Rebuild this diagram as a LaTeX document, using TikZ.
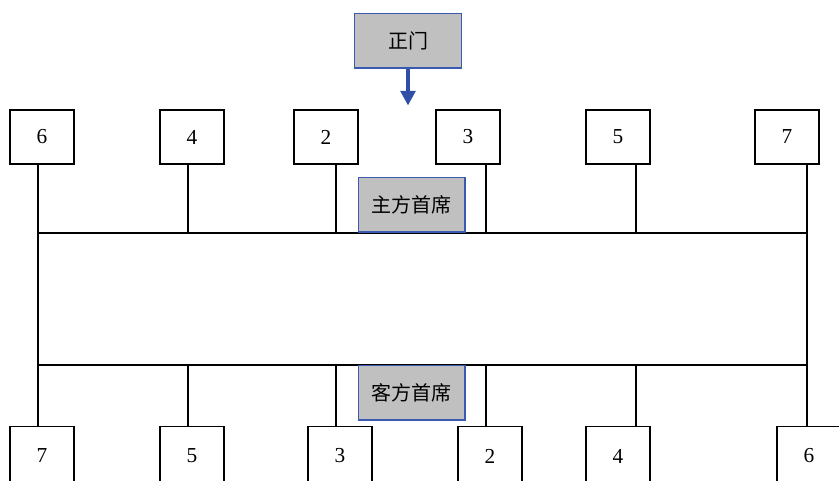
\documentclass[tikz,border=0pt]{standalone}
\usepackage{fontspec}
\setmainfont{Liberation Serif}
\newfontfamily\cjkfont{Noto Sans CJK SC}
\usetikzlibrary{arrows.meta}
\definecolor{seatgray}{HTML}{C0C0C0}
\definecolor{headblue}{HTML}{3A5AB0}
\definecolor{doorblue}{HTML}{2F50A6}
\tikzset{
  seatbox/.style={
    draw=black,
    line width=0.9pt,
    fill=white,
    minimum width=48pt,
    minimum height=40.5pt,
    inner sep=0pt,
    font=\fontsize{16}{18}\selectfont
  },
  headbox/.style={
    draw=headblue,
    line width=1pt,
    fill=seatgray,
    minimum width=80pt,
    minimum height=41pt,
    inner sep=0pt,
    font=\cjkfont\fontsize{15}{18}\selectfont
  },
  leg/.style={
    draw=black,
    line width=0.9pt
  },
  arrow/.style={
    -{Triangle[length=11pt,width=11pt]},
    line width=3pt,
    draw=doorblue
  }
}

\begin{document}
\begin{tikzpicture}[x=0.75pt,y=-0.75pt]
\useasboundingbox (0,0) rectangle (839,480);
% the long table
\node[leg, minimum width=576.75pt, minimum height=99pt, inner sep=0pt] (table) at (422.5,299) {};
% entrance
\node[headbox] (door) at (408,40.5) {正门};
\path (door.south) ++(0,37) coordinate (entry);
\draw[arrow] (door.south) -- (entry);
% upper row of seats
\node[seatbox] (t6) at (42,137) {6};
\node[seatbox] (t4) at (192,137) {4};
\node[seatbox] (t2) at (326,137) {2};
\node[seatbox] (t3) at (468,137) {3};
\node[seatbox] (t5) at (618,137) {5};
\node[seatbox] (t7) at (787,137) {7};
% lower row of seats (runs off the bottom edge)
\node[seatbox, minimum height=44pt] (b7) at (42,456) {7};
\node[seatbox, minimum height=44pt] (b5) at (192,456) {5};
\node[seatbox, minimum height=44pt] (b3) at (340,456) {3};
\node[seatbox, minimum height=44pt] (b2) at (490,456) {2};
\node[seatbox, minimum height=44pt] (b4) at (618,456) {4};
\node[seatbox, minimum height=44pt] (b6) at (809,456) {6};
% where the legs meet the table
\coordinate (x1) at (38,0);
\coordinate (x2) at (188,0);
\coordinate (x3) at (336,0);
\coordinate (x4) at (486,0);
\coordinate (x5) at (636,0);
\coordinate (x6) at (807,0);
\draw[leg] (t6.south -| x1) -- (table.north -| x1);
\draw[leg] (t4.south -| x2) -- (table.north -| x2);
\draw[leg] (t2.south -| x3) -- (table.north -| x3);
\draw[leg] (t3.south -| x4) -- (table.north -| x4);
\draw[leg] (t5.south -| x5) -- (table.north -| x5);
\draw[leg] (t7.south -| x6) -- (table.north -| x6);
\draw[leg] (table.south -| x1) -- (b7.north -| x1);
\draw[leg] (table.south -| x2) -- (b5.north -| x2);
\draw[leg] (table.south -| x3) -- (b3.north -| x3);
\draw[leg] (table.south -| x4) -- (b2.north -| x4);
\draw[leg] (table.south -| x5) -- (b4.north -| x5);
\draw[leg] (table.south -| x6) -- (b6.north -| x6);
% head seats on both sides
\node[headbox] (host) at (411.5,204.5) {主方首席};
\node[headbox] (guest) at (411.5,392.5) {客方首席};
\end{tikzpicture}
\end{document}
